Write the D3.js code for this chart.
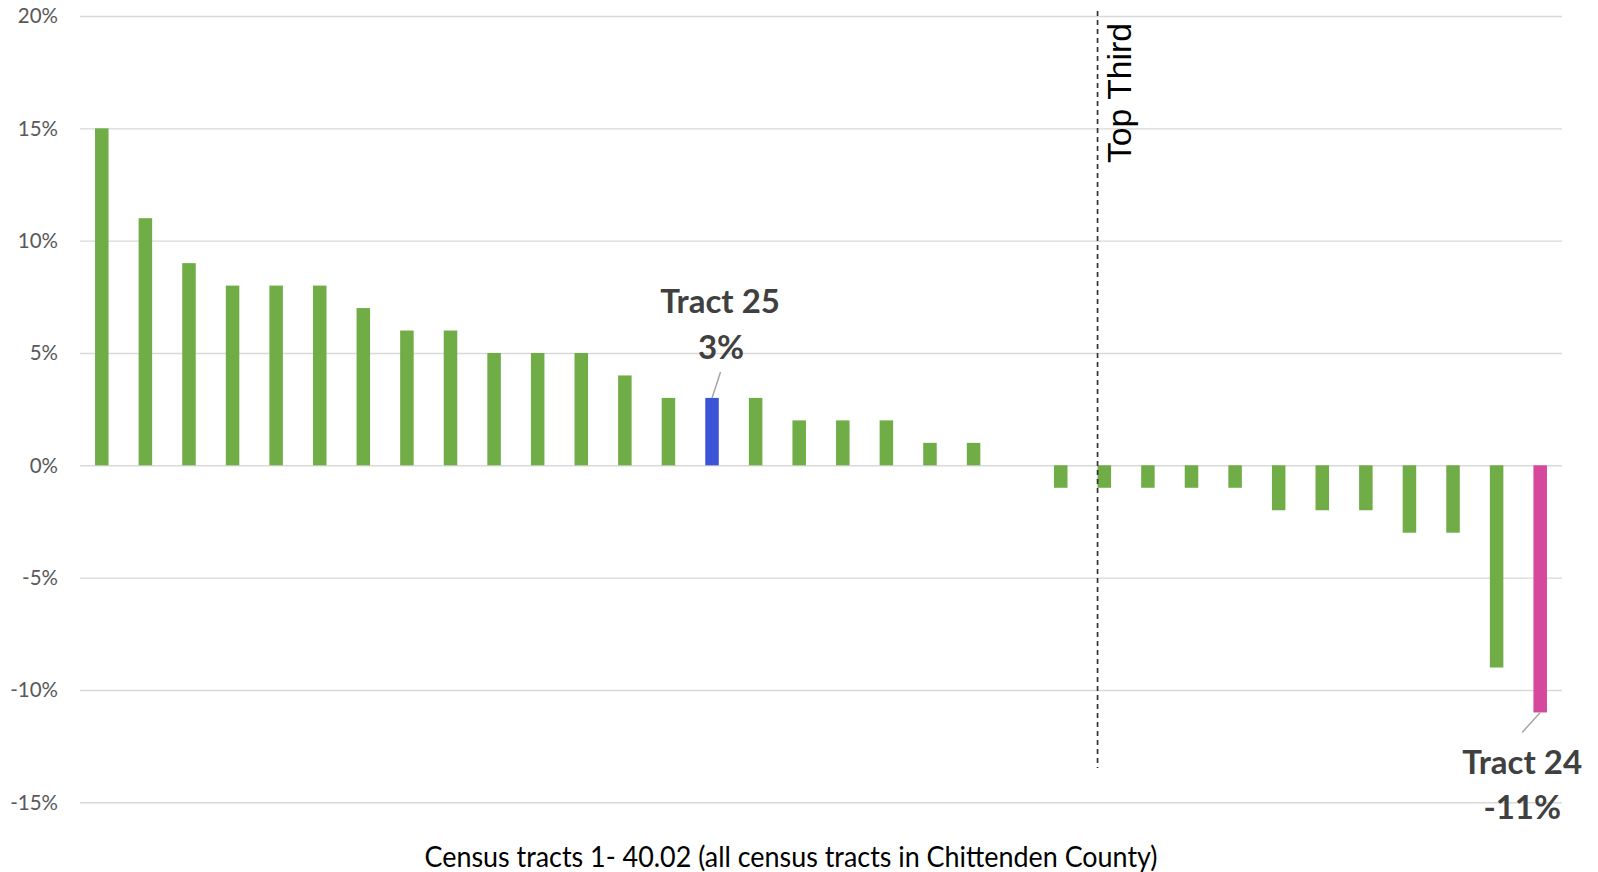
<!DOCTYPE html>
<html>
<head>
<meta charset="utf-8">
<script src="https://cdn.jsdelivr.net/npm/d3@7/dist/d3.min.js"></script>
<style>
  html, body { margin: 0; padding: 0; background: #fff; }
  svg { display: block; }
</style>
</head>
<body>
<svg id="chart" width="1598" height="872"></svg>
<script>
// ---- Data ----
const ranks = ["1","2","3","4","5","6","7","8","9","10","11","12","13","14","15","16","17",
  "18","19","20","21","22","23","24","25","26","27","28","29","30","31","32","33","34"];
const changePct = [15, 11, 9, 8, 8, 8, 7, 6, 6, 5, 5, 5, 4, 3, 3, 3, 2, 2, 2, 1, 1, 0,
  -1, -1, -1, -1, -1, -2, -2, -2, -3, -3, -9, -11];
const yTicks = [-15, -10, -5, 0, 5, 10, 15, 20];
const highlights = [
  { rank: "15", name: "Tract 25", value: 3, color: "#3b55d6" },
  { rank: "34", name: "Tract 24", value: -11, color: "#d6489c" }
];
const topThirdRank = "24";
const topThirdLabel = "Top Third";
const xTitle = "Census tracts 1- 40.02 (all census tracts in Chittenden County)";

// ---- Layout ----
const svg = d3.select("#chart");
const plotL = 80, plotR = 1562, plotT = 16, plotB = 802.3;
const fontFam = "Lato, 'Open Sans', sans-serif";

const x = d3.scaleBand().domain(ranks).range([plotL, plotR]).paddingInner(0.69).paddingOuter(0.345);
const y = d3.scaleLinear().domain([-15, 20]).range([plotB, plotT]);

// gridlines + axis labels via d3 axis
const yAxis = d3.axisLeft(y).tickValues(yTicks).tickFormat(d => d + "%")
  .tickSize(-(plotR - plotL)).tickPadding(22);
const gy = svg.append("g").attr("transform", `translate(${plotL},0)`).call(yAxis);
gy.select(".domain").remove();
gy.selectAll(".tick line").attr("stroke", "#d9d9d9").attr("stroke-width", 1.4);
gy.selectAll(".tick text").attr("fill", "#595959").style("font-family", fontFam)
  .style("font-size", "20.5px").attr("dy", "0.34em");

// bars
const colorOf = r => { const h = highlights.find(h => h.rank === r); return h ? h.color : "#70ad47"; };
svg.append("g").selectAll("rect").data(ranks).join("rect")
  .attr("x", r => x(r))
  .attr("width", x.bandwidth())
  .attr("y", (r, i) => y(Math.max(0, changePct[i])))
  .attr("height", (r, i) => Math.abs(y(changePct[i]) - y(0)))
  .attr("fill", r => colorOf(r));

// top third marker
const tx = x(topThirdRank);
svg.append("line").attr("x1", tx).attr("x2", tx).attr("y1", 11).attr("y2", 768)
  .attr("stroke", "#333").attr("stroke-width", 1.7).attr("stroke-dasharray", "5,4");
svg.append("text")
  .attr("transform", `translate(${tx + 33},163) rotate(-90)`)
  .attr("fill", "#000").style("font-family", "'Liberation Sans', Arial, sans-serif")
  .style("font-size", "34px")
  .attr("textLength", 140).attr("lengthAdjust", "spacingAndGlyphs")
  .text(topThirdLabel);

// annotations
const annot = svg.append("g").style("font-family", fontFam).style("font-weight", "700")
  .style("font-size", "33px").attr("fill", "#404040").attr("text-anchor", "middle");
// Tract 25 (above bar)
{
  const h = highlights[0];
  const cx = x(h.rank) + x.bandwidth() / 2;
  const yt = y(h.value);
  svg.append("line").attr("x1", cx).attr("y1", yt).attr("x2", cx + 8.5).attr("y2", yt - 26)
    .attr("stroke", "#a6a6a6").attr("stroke-width", 1.5);
  annot.append("text").attr("x", cx + 8).attr("y", yt - 85).text(h.name);
  annot.append("text").attr("x", cx + 9).attr("y", yt - 39).text(h.value + "%");
}
// Tract 24 (below bar)
{
  const h = highlights[1];
  const cx = x(h.rank) + x.bandwidth() / 2;
  const yb = y(h.value);
  svg.append("line").attr("x1", cx).attr("y1", yb).attr("x2", cx - 18).attr("y2", yb + 20)
    .attr("stroke", "#a6a6a6").attr("stroke-width", 1.5);
  annot.append("text").attr("x", cx - 18).attr("y", yb + 62).text(h.name);
  annot.append("text").attr("x", cx - 18).attr("y", yb + 107).text(h.value + "%");
}

// x title
svg.append("text").attr("x", 791).attr("y", 867).attr("text-anchor", "middle")
  .attr("fill", "#000").style("font-family", fontFam).style("font-size", "28px")
  .attr("textLength", 733).attr("lengthAdjust", "spacingAndGlyphs")
  .text(xTitle);
</script>
</body>
</html>
